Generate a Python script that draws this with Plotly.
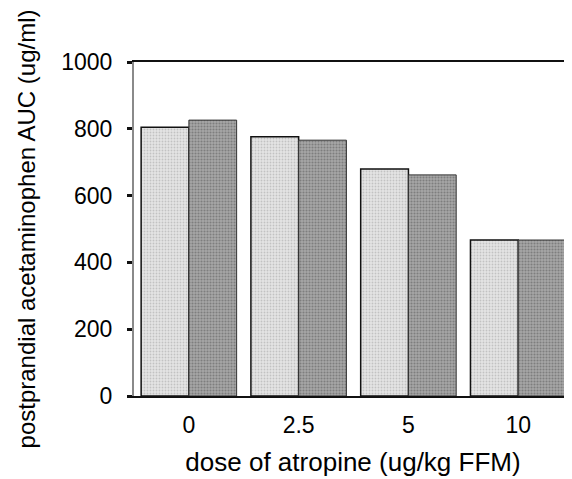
import plotly.graph_objects as go

doses = ["0", "2.5", "5", "10"]
series_1 = [805, 776, 680, 467]
series_2 = [826, 766, 662, 467]
y_ticks = [0, 200, 400, 600, 800, 1000]

fig = go.Figure()
fig.add_trace(go.Bar(
    x=doses, y=series_1, name="series 1",
    marker=dict(color="#dadada", line=dict(color="#111111", width=1.5),
                pattern=dict(shape=".", size=3, solidity=0.3, fgcolor="#a0a0a0", bgcolor="#e4e4e4")),
))
fig.add_trace(go.Bar(
    x=doses, y=series_2, name="series 2",
    marker=dict(color="#939393", line=dict(color="#333333", width=1),
                pattern=dict(shape=".", size=3, solidity=0.4, fgcolor="#555555", bgcolor="#a6a6a6")),
))

font = "Liberation Sans, Arial, sans-serif"
fig.update_layout(
    width=564, height=471,
    margin=dict(l=126, r=0, t=54, b=83),
    paper_bgcolor="white", plot_bgcolor="white",
    barmode="group", bargap=0.13, bargroupgap=0.0,
    showlegend=False,
    font=dict(family=font, color="#000000", size=21),
)
fig.update_xaxes(
    type="category", range=[-0.5, 3.49],
    showline=True, linecolor="#111111", linewidth=2, mirror=True,
    ticks="", showgrid=False, tickfont=dict(size=23), ticklabelstandoff=7,
    title=dict(text="dose of atropine (ug/kg FFM)", font=dict(size=26), standoff=16),
)
fig.update_yaxes(
    range=[0, 1000], tickvals=y_ticks,
    showline=True, linecolor="#8a8a8a", linewidth=2, mirror=False,
    ticks="outside", ticklen=5, tickwidth=3, tickcolor="#111111",
    showgrid=False, zeroline=False, tickfont=dict(size=23), ticklabelstandoff=10,
    title=dict(text="postprandial acetaminophen AUC (ug/ml)", font=dict(size=24), standoff=19),
)
fig.write_html("out.html")
